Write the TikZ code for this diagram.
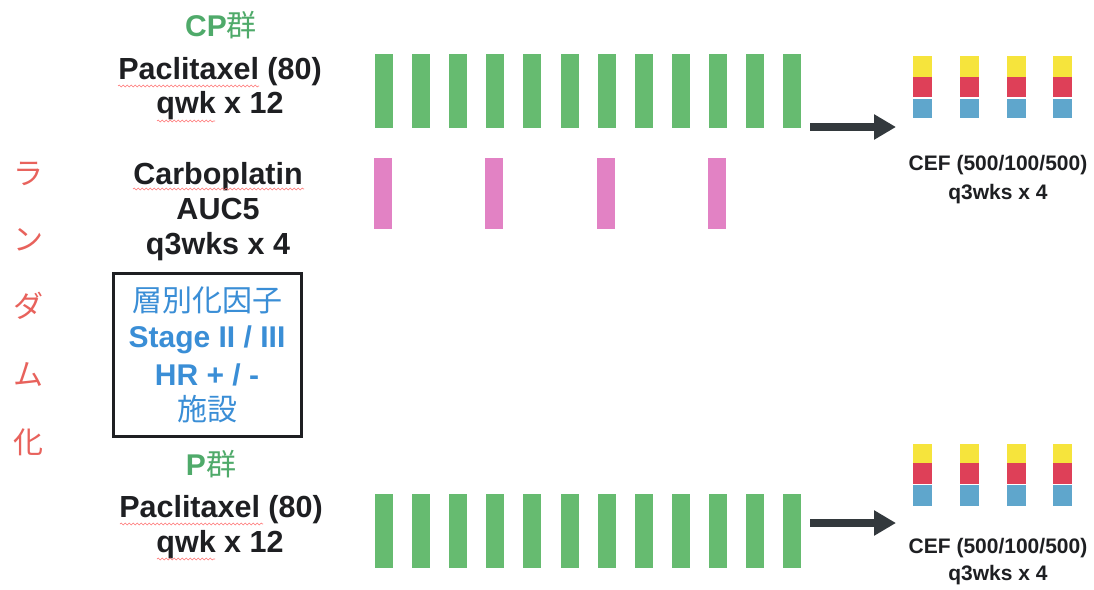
\documentclass[tikz,border=0pt]{standalone}
\usepackage{fontspec}
\setmainfont{Liberation Sans}
\newfontfamily\jp{Noto Sans CJK JP}
\usetikzlibrary{arrows.meta,decorations.pathmorphing}
\definecolor{ink}{HTML}{1E1F22}
\definecolor{grpgreen}{HTML}{4FAA6A}
\definecolor{barg}{HTML}{66BB70}
\definecolor{barp}{HTML}{E282C4}
\definecolor{cy}{HTML}{F6E43C}
\definecolor{cr}{HTML}{DE4058}
\definecolor{cb}{HTML}{5FA6CC}
\definecolor{randred}{HTML}{E8625C}
\definecolor{stratblue}{HTML}{3A8ED6}
\definecolor{arrowc}{HTML}{33393D}
\begin{document}
\begin{tikzpicture}[x=1pt,y=-1pt,
  txt/.style={font=\bfseries\fontsize{30.5}{36}\selectfont,text=ink,inner sep=0pt,anchor=base},
  grp/.style={font=\bfseries\fontsize{30}{36}\selectfont,text=grpgreen,inner sep=0pt,anchor=base},
  ceftxt/.style={font=\bfseries\fontsize{21}{26}\selectfont,text=ink,inner sep=0pt,anchor=base},
  rand/.style={font=\jp\fontsize{30}{36}\selectfont,text=randred,inner sep=0pt},
  stratbox/.style={draw=ink,line width=3pt,minimum width=188pt,minimum height=163pt,inner sep=0pt},
  strattxt/.style={font=\bfseries\fontsize{30}{36}\selectfont,text=stratblue,inner sep=0pt,anchor=base},
  bigarrow/.style={draw=arrowc,line width=8pt,-{Triangle[length=22pt,width=24pt]}},
  squiggle/.style={draw=red!55,line width=0.6pt,decorate,decoration={snake,amplitude=0.9pt,segment length=4pt}}
]
\useasboundingbox (0,0) rectangle (1094,589);
\fill[white] (0,0) rectangle (1094,589);

% randomisation label
\node[rand] (r1) at (28,174) {ラ};
\node[rand] (r2) at (28,240) {ン};
\node[rand] (r3) at (28,306) {ダ};
\node[rand] (r4) at (28,375) {ム};
\node[rand] (r5) at (28,442) {化};

% CP arm labels
\node[grp] (cp) at (221,36) {CP{\mdseries\jp 群}};
\node[txt] (cpp1) at (220,79) {Paclitaxel (80)};
\node[txt] (cpp2) at (220,113) {qwk x 12};
\node[txt] (cb1) at (218,184) {Carboplatin};
\node[txt] (cb2) at (218,219) {AUC5};
\node[txt] (cb3) at (218,254) {q3wks x 4};

% stratification box
\node[stratbox] (strat) at (207.5,355) {};
\node[strattxt] (s1) at (207,311) {\mdseries\jp 層別化因子};
\node[strattxt] (s2) at (207,347) {Stage II / III};
\node[strattxt] (s3) at (207,385) {HR + / -};
\node[strattxt] (s4) at (207,420) {\mdseries\jp 施設};

% P arm labels
\node[grp] (p) at (211,475) {P{\mdseries\jp 群}};
\node[txt] (pp1) at (221,517) {Paclitaxel (80)};
\node[txt] (pp2) at (220,552) {qwk x 12};

% spell-check squiggles
\path[squiggle] (118,86) -- (259,86);
\path[squiggle] (157,121) -- (215,121);
\path[squiggle] (133,189) -- (304,189);
\path[squiggle] (120,524) -- (263,524);
\path[squiggle] (157,559) -- (215,559);

% weekly paclitaxel bars
\foreach \i in {0,...,11}{
  \fill[barg] ({375+\i*37.1},54) rectangle ++(18,74);
  \fill[barg] ({375+\i*37.1},494) rectangle ++(18,74);
}
% carboplatin bars
\foreach \x in {374,485,597,708}{
  \fill[barp] (\x,158) rectangle ++(18,71);
}
% CEF stacks
\foreach \x in {913,960,1007,1053}{
  \fill[cy] (\x,56) rectangle ++(19,21);
  \fill[cr] (\x,77) rectangle ++(19,20);
  \fill[cb] (\x,98.5) rectangle ++(19,19.5);
  \fill[cy] (\x,444) rectangle ++(19,19);
  \fill[cr] (\x,463) rectangle ++(19,21);
  \fill[cb] (\x,485) rectangle ++(19,21);
}

% arrows
\coordinate (a1s) at (810,127);
\coordinate (a1e) at (896,127);
\coordinate (a2s) at (810,523);
\coordinate (a2e) at (896,523);
\draw[bigarrow] (a1s) -- (a1e);
\draw[bigarrow] (a2s) -- (a2e);

% CEF labels
\node[ceftxt] (cef1) at (998,170) {CEF (500/100/500)};
\node[ceftxt] (cef1b) at (998,199) {q3wks x 4};
\node[ceftxt] (cef2) at (998,553) {CEF (500/100/500)};
\node[ceftxt] (cef2b) at (998,580) {q3wks x 4};
\end{tikzpicture}
\end{document}
